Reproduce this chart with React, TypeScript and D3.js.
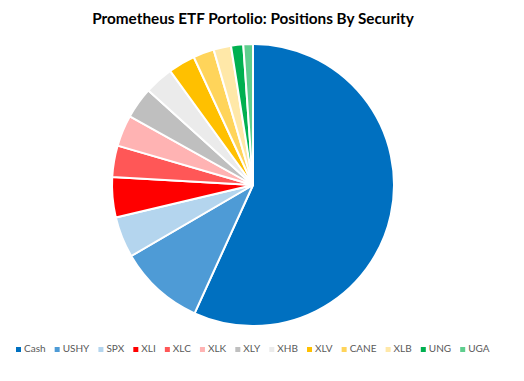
import React, { useEffect, useRef } from "react";
import * as d3 from "d3";

const categories = ["Cash", "USHY", "SPX", "XLI", "XLC", "XLK", "XLY", "XHB", "XLV", "CANE", "XLB", "UNG", "UGA"];
const values = [56.8, 9.8, 4.7, 4.6, 3.6, 3.6, 3.6, 3.3, 3.1, 2.4, 2.0, 1.4, 1.1];
const colors = ["#0070C0", "#4E9BD6", "#B4D5EE", "#FF0000", "#FF5757", "#FFB3B3", "#BFBFBF", "#EBEBEB", "#FFC000", "#FFD45A", "#FFE8A8", "#00B050", "#5FCE8E"];
const title = "Prometheus ETF Portolio: Positions By Security";

export default function App() {
  const ref = useRef<SVGSVGElement>(null);
  useEffect(() => {
    const svg = d3.select(ref.current);
    svg.selectAll("*").remove();
    const W = 524, H = 381;
    svg.append("rect").attr("width", W).attr("height", H).attr("fill", "#fff");
    svg.append("text").attr("x", 253).attr("y", 24).attr("text-anchor", "middle")
      .attr("font-family", "Lato, 'Open Sans', sans-serif").attr("font-weight", "bold")
      .attr("font-size", 15.3).attr("fill", "#000").text(title);

    const data = categories.map((c, i) => ({ c, v: values[i], col: colors[i] }));
    const pie = d3.pie<any>().value((d) => d.v).sort(null);
    const arc = d3.arc<any>().innerRadius(0).outerRadius(141);
    const g = svg.append("g").attr("transform", "translate(253,185)");
    g.selectAll("path").data(pie(data)).enter().append("path")
      .attr("d", arc as any).attr("fill", (d: any) => d.data.col)
      .attr("stroke", "#fff").attr("stroke-width", 2).attr("stroke-linejoin", "round");

    const lg = svg.append("g");
    let x = 0;
    const gap = 9.1;
    data.forEach((d) => {
      const it = lg.append("g").attr("transform", `translate(${x},0)`);
      it.append("rect").attr("x", 0).attr("y", -5).attr("width", 5).attr("height", 5).attr("fill", d.col);
      const t = it.append("text").attr("x", 8).attr("y", 0).attr("font-family", "Lato, 'Open Sans', sans-serif")
        .attr("font-size", 10).attr("fill", "#595959").text(d.c);
      const w = (t.node() as SVGTextElement).getComputedTextLength();
      x += 8 + w + gap;
    });
    lg.attr("transform", `translate(16,${352})`);
  }, []);
  return <svg ref={ref} width={524} height={381} style={{ display: "block", position: "absolute", left: 0, top: 0 }} />;
}
